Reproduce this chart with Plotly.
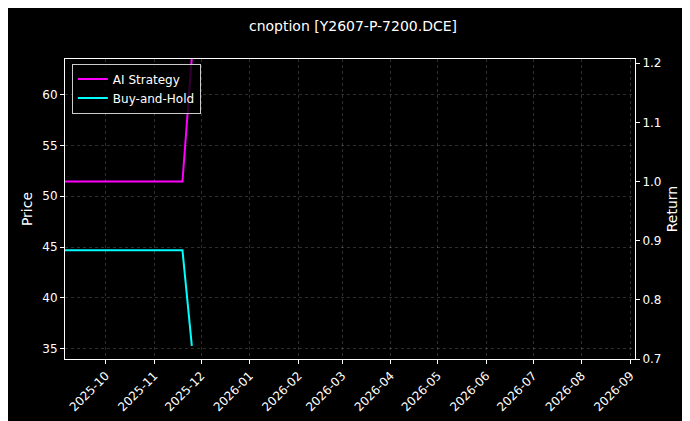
import plotly.graph_objects as go

dates = ["2025-09-05", "2025-11-19", "2025-11-25"]
ai_return = [1.0, 1.0, 1.21]
bh_price = [44.7, 44.7, 35.3]
title = "cnoption [Y2607-P-7200.DCE]"
tickvals = ["2025-10-01","2025-11-01","2025-12-01","2026-01-01","2026-02-01","2026-03-01",
            "2026-04-01","2026-05-01","2026-06-01","2026-07-01","2026-08-01","2026-09-01"]
ticktext = [d[:7] for d in tickvals]

fig = go.Figure()
fig.add_trace(go.Scatter(x=dates, y=ai_return, name="AI Strategy", mode="lines",
                         line=dict(color="#ff00ff", width=2), yaxis="y2"))
fig.add_trace(go.Scatter(x=dates, y=bh_price, name="Buy-and-Hold", mode="lines",
                         line=dict(color="#00ffff", width=2)))

grid = dict(showgrid=True, gridcolor="rgba(255,255,255,0.18)", griddash="dot", gridwidth=0.5)
fig.update_layout(
    width=690, height=421, paper_bgcolor="#000000", plot_bgcolor="#000000",
    font=dict(family="DejaVu Sans", color="white", size=12),
    margin=dict(l=57, r=63, t=51, b=70, autoexpand=False),
    title=dict(text=title, x=0.5, xanchor="center", y=0.957, yanchor="middle", font=dict(size=14),
               automargin=False),
    showlegend=True,
    legend=dict(x=0.012, y=0.985, xanchor="left", yanchor="top", bgcolor="rgba(0,0,0,0.8)",
                bordercolor="#cccccc", borderwidth=1, font=dict(size=12)),
    xaxis=dict(type="date", range=["2025-09-05", "2026-09-04"], tickvals=tickvals, ticktext=ticktext,
               tickangle=-45, ticks="outside", tickcolor="white", ticklen=4, automargin=False,
               showline=True, linecolor="white", mirror=True, zeroline=False, **grid),
    yaxis=dict(title=dict(text="Price", standoff=6), range=[34.0, 63.5], tickvals=[35,40,45,50,55,60],
               ticks="outside", tickcolor="white", ticklen=4, showline=True, linecolor="white",
               mirror=True, zeroline=False, automargin=False, **grid),
    yaxis2=dict(title=dict(text="Return", standoff=6), overlaying="y", side="right",
                range=[0.7, 1.207], tickvals=[0.7,0.8,0.9,1.0,1.1,1.2], tickformat=".1f",
                ticks="outside", tickcolor="white", ticklen=4, showgrid=False, zeroline=False,
                showline=True, linecolor="white", automargin=False),
)
fig.write_html("out.html")
